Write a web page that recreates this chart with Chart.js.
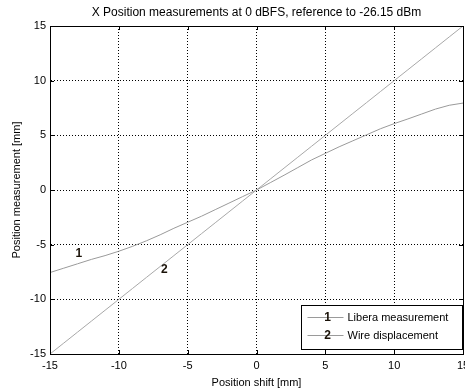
<!DOCTYPE html>
<html>
<head>
<meta charset="utf-8">
<script src="https://cdn.jsdelivr.net/npm/chart.js@4/dist/chart.umd.min.js"></script>
<style>
  html, body { margin: 0; padding: 0; overflow: hidden; background: #fff; }
  #wrap { width: 480px; height: 392px; }
</style>
</head>
<body>
<div id="wrap"><canvas id="posChart" width="480" height="392"></canvas></div>
<script>
// Position shift of the wire [mm]
const posShift = [-15, -14, -13, -12, -11, -10, -9, -8, -7, -6, -5, -4, -3, -2, -1, 0,
                  1, 2, 3, 4, 5, 6, 7, 8, 9, 10, 11, 12, 13, 14, 15];
// 1 - Libera measurement [mm]
const liberaMeas = [-7.55, -7.15, -6.75, -6.35, -6.0, -5.6, -5.15, -4.65, -4.1, -3.5, -2.95,
                    -2.4, -1.8, -1.2, -0.6, 0, 0.67, 1.35, 2.05, 2.75, 3.35, 3.95, 4.5, 5.05,
                    5.6, 6.07, 6.5, 6.95, 7.4, 7.75, 7.95];
// 2 - Wire displacement [mm]
const wireDisp = [-15, -14, -13, -12, -11, -10, -9, -8, -7, -6, -5, -4, -3, -2, -1, 0,
                  1, 2, 3, 4, 5, 6, 7, 8, 9, 10, 11, 12, 13, 14, 15];

const seriesNames = ["Libera measurement", "Wire displacement"];
const seriesMarks = ["1", "2"];
// where the "1" / "2" marks sit on the plot (data coords)
const markPos = [[-12.9, -5.8], [-6.7, -7.3]];
const axisTicks = [-15, -10, -5, 0, 5, 10, 15];
const chartTitle = "X Position measurements at 0 dBFS, reference to -26.15 dBm";

const FONT = "'Liberation Sans', Arial, sans-serif";
const lineGray = "#9a9a9a";

const toPoints = (xs, ys) => xs.map((x, i) => ({ x: x, y: ys[i] }));

// title, frame, inward ticks, curve marks and legend (MATLAB look)
const matlabExtras = {
  id: "matlabExtras",
  afterDraw: (chart) => {
    const ctx = chart.ctx;
    const a = chart.chartArea;
    const xs = chart.scales.x;
    const ys = chart.scales.y;

    ctx.save();
    // title centred over the axes
    ctx.font = "12px " + FONT;
    ctx.fillStyle = "#000";
    ctx.textAlign = "center";
    ctx.textBaseline = "middle";
    ctx.fillText(chartTitle, (a.left + a.right) / 2, 12.5);

    ctx.strokeStyle = "#000";
    ctx.lineWidth = 1;
    ctx.strokeRect(Math.round(a.left) + 0.5, Math.round(a.top) + 0.5,
                   Math.round(a.right - a.left), Math.round(a.bottom - a.top));

    // inward tick marks
    ctx.beginPath();
    axisTicks.forEach(v => {
      const px = Math.round(xs.getPixelForValue(v)) + 0.5;
      ctx.moveTo(px, a.bottom); ctx.lineTo(px, a.bottom - 4);
      ctx.moveTo(px, a.top); ctx.lineTo(px, a.top + 4);
      const py = Math.round(ys.getPixelForValue(v)) + 0.5;
      ctx.moveTo(a.left, py); ctx.lineTo(a.left + 4, py);
      ctx.moveTo(a.right, py); ctx.lineTo(a.right - 4, py);
    });
    ctx.stroke();

    // curve marks
    ctx.font = "bold 12px " + FONT;
    ctx.fillStyle = "#1a1208";
    markPos.forEach((p, i) => {
      ctx.fillText(seriesMarks[i], xs.getPixelForValue(p[0]), ys.getPixelForValue(p[1]));
    });

    // legend box (south east)
    const bx = Math.round(a.right) - 162 + 0.5;
    const by = Math.round(a.bottom) - 49 + 0.5;
    ctx.fillStyle = "#fff";
    ctx.fillRect(bx, by, 161, 44);
    ctx.strokeStyle = "#000";
    ctx.strokeRect(bx, by, 161, 44);

    seriesNames.forEach((name, i) => {
      const ly = by + 12 + i * 18;
      ctx.strokeStyle = lineGray;
      ctx.beginPath();
      ctx.moveTo(bx + 6, ly);
      ctx.lineTo(bx + 42, ly);
      ctx.stroke();
      ctx.font = "bold 12px " + FONT;
      ctx.fillStyle = "#1a1208";
      ctx.textAlign = "center";
      ctx.fillText(seriesMarks[i], bx + 26, ly);
      ctx.font = "11px " + FONT;
      ctx.fillStyle = "#000";
      ctx.textAlign = "left";
      ctx.fillText(name, bx + 46, ly + 0.5);
    });
    ctx.restore();
  }
};

const ctx = document.getElementById("posChart").getContext("2d");

new Chart(ctx, {
  type: "line",
  data: {
    datasets: [
      {
        label: seriesNames[0],
        data: toPoints(posShift, liberaMeas),
        borderColor: lineGray,
        borderWidth: 1,
        pointRadius: 0,
        tension: 0,
        fill: false
      },
      {
        label: seriesNames[1],
        data: toPoints(posShift, wireDisp),
        borderColor: "#a8a8a8",
        borderWidth: 1,
        pointRadius: 0,
        tension: 0,
        fill: false
      }
    ]
  },
  options: {
    responsive: false,
    animation: false,
    layout: { padding: { left: 0, right: 17, top: 26, bottom: 0 } },
    plugins: {
      legend: { display: false },
      tooltip: { enabled: false },
      title: { display: false }
    },
    scales: {
      x: {
        type: "linear",
        min: -15,
        max: 15,
        afterBuildTicks: (s) => { s.ticks = axisTicks.map(v => ({ value: v })); },
        afterFit: (s) => { s.height = 38; },
        ticks: { color: "#000", font: { family: FONT, size: 11 }, padding: 5, maxRotation: 0 },
        grid: { color: "#000", lineWidth: 1, drawTicks: false },
        border: { color: "#000", dash: [1, 2] },
        title: {
          display: true,
          text: "Position shift [mm]",
          color: "#000",
          font: { family: FONT, size: 11 },
          padding: { top: 0, bottom: 2 }
        }
      },
      y: {
        type: "linear",
        min: -15,
        max: 15,
        afterBuildTicks: (s) => { s.ticks = axisTicks.map(v => ({ value: v })); },
        afterFit: (s) => { s.width = 50; },
        ticks: { color: "#000", font: { family: FONT, size: 11 }, padding: 4 },
        grid: { color: "#000", lineWidth: 1, drawTicks: false },
        border: { color: "#000", dash: [1, 2] },
        title: {
          display: true,
          text: "Position measurement [mm]",
          color: "#000",
          font: { family: FONT, size: 11 },
          padding: { top: 10, bottom: 0 }
        }
      }
    }
  },
  plugins: [matlabExtras]
});
</script>
</body>
</html>
